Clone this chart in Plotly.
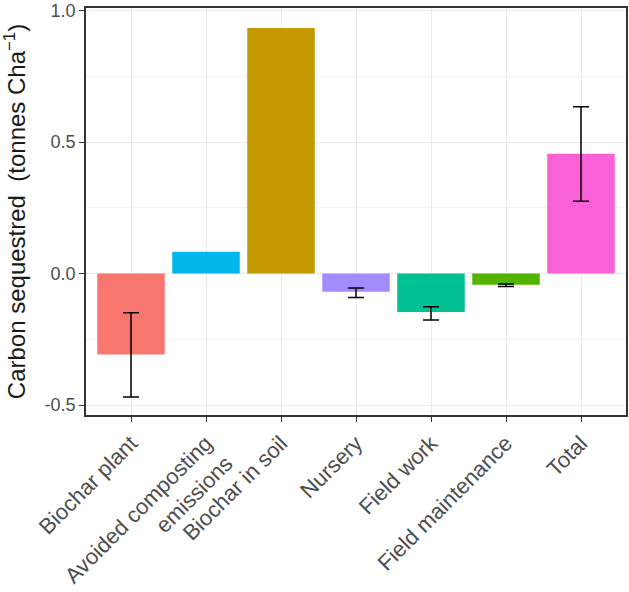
import plotly.graph_objects as go

categories = ["Biochar plant", "Avoided composting<br>emissions", "Biochar in soil",
              "Nursery", "Field work", "Field maintenance", "Total"]
values = [-0.308, 0.083, 0.934, -0.069, -0.146, -0.043, 0.456]
err_plus = [0.159, None, None, 0.014, 0.020, 0.003, 0.178]
err_minus = [0.162, None, None, 0.022, 0.031, 0.006, 0.181]
colors = ["#F8766D", "#00B6EB", "#C49A00", "#A58AFF", "#00C094", "#53B400", "#FB61D7"]

fig = go.Figure()
fig.add_trace(go.Bar(
    x=categories, y=values, marker=dict(color=colors, line=dict(width=0)),
    width=0.9, showlegend=False,
))
ex = [c for c, e in zip(categories, err_plus) if e is not None]
ey = [v for v, e in zip(values, err_plus) if e is not None]
ep = [e for e in err_plus if e is not None]
em = [e for e in err_minus if e is not None]
fig.add_trace(go.Scatter(
    x=ex, y=ey, mode="markers", marker=dict(size=0.1, color="rgba(0,0,0,0)"),
    error_y=dict(type="data", symmetric=False, array=ep, arrayminus=em,
                 color="black", thickness=1.5, width=8),
    showlegend=False, hoverinfo="skip",
))

font_family = "Liberation Sans, Arial, sans-serif"
fig.update_layout(
    width=629, height=592,
    margin=dict(l=86, r=3, t=8, b=177),
    paper_bgcolor="white", plot_bgcolor="white",
    font=dict(family=font_family),
    bargap=0.1,
)
fig.update_xaxes(
    range=[-0.6, 6.6], showgrid=True, gridcolor="#EBEBEB", gridwidth=1,
    showline=True, mirror=True, linecolor="#333333", linewidth=1.5,
    ticks="outside", ticklen=5, tickcolor="#333333", tickwidth=1.2,
    tickangle=-45, tickfont=dict(size=22, color="#4D4D4D"), zeroline=False,
    automargin=False,
)
fig.update_yaxes(
    range=[-0.538, 1.01], tickvals=[-0.5, 0.0, 0.5, 1.0],
    ticktext=["-0.5", "0.0", "0.5", "1.0"],
    showgrid=True, gridcolor="#EBEBEB", gridwidth=1.2,
    minor=dict(tickvals=[-0.25, 0.25, 0.75], showgrid=True, gridcolor="#F3F3F3", gridwidth=1),
    showline=True, mirror=True, linecolor="#333333", linewidth=1.5,
    ticks="outside", ticklen=5, tickcolor="#333333", tickwidth=1.2,
    tickfont=dict(size=18, color="#4D4D4D"), zeroline=False,
    automargin=False,
    title=dict(text="Carbon sequestred  (tonnes Cha<sup>−1</sup>)",
               font=dict(size=24, color="#1A1A1A"), standoff=18),
)

fig.write_html("out.html", config={"displayModeBar": False},
               post_script="document.body.style.margin='0';")
